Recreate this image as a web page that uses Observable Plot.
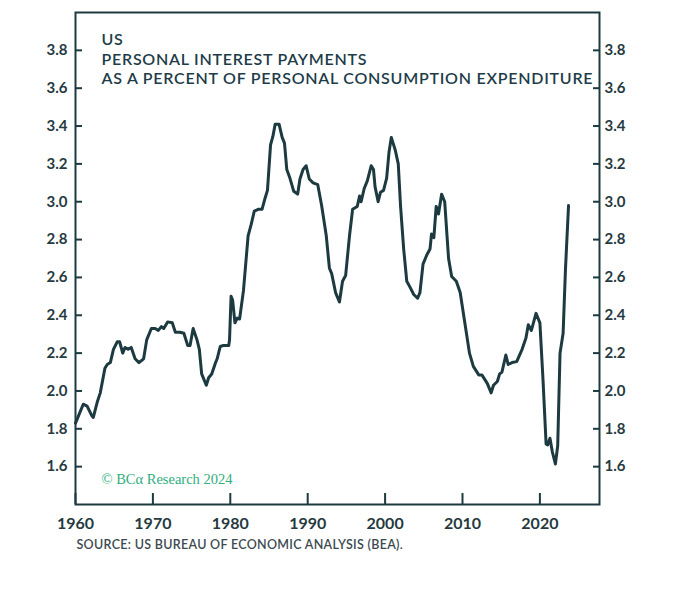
<!DOCTYPE html>
<html>
<head>
<meta charset="utf-8">
<script src="https://cdn.jsdelivr.net/npm/d3@7"></script>
<script src="https://cdn.jsdelivr.net/npm/@observablehq/plot@0.6"></script>
<style>
  body { margin: 0; background: #fff; }
  #chart svg { display: block; }
</style>
</head>
<body>
<div id="chart"></div>
<script>
const years = [
  1960.0,1960.4,1961.0,1961.5,1962.1,1962.3,1962.8,1963.2,1963.8,1964.1,1964.5,1964.9,1965.4,1965.7,1966.1,1966.4,1966.8,1967.2,1967.7,1968.2,1968.8,1969.2,1969.8,
  1970.3,1970.7,1971.1,1971.4,1971.9,1972.5,1972.9,1973.5,1974.0,1974.5,1974.8,1975.2,1975.7,1976.0,1976.3,1976.9,1977.2,1977.6,1978.1,1978.3,1978.7,1979.1,1979.8,1979.9,
  1980.1,1980.3,1980.6,1980.9,1981.2,1981.7,1982.3,1982.7,1983.1,1983.6,1984.1,1984.5,1984.8,1985.2,1985.5,1985.8,1986.3,1986.7,1987.0,1987.3,1987.7,1988.2,1988.7,1989.0,1989.4,1989.8,
  1990.2,1990.7,1991.3,1991.8,1992.4,1992.8,1993.1,1993.6,1994.1,1994.5,1994.9,1995.4,1995.8,1996.4,1996.7,1996.9,1997.3,1997.7,1998.2,1998.5,1998.7,1999.1,1999.4,1999.8,
  2000.2,2000.5,2000.8,2001.3,2001.7,2002.0,2002.4,2002.8,2003.2,2003.7,2004.2,2004.5,2004.9,2005.4,2005.8,2006.0,2006.3,2006.6,2006.9,2007.3,2007.7,2008.2,2008.6,2009.2,2009.7,
  2010.3,2010.9,2011.4,2012.1,2012.5,2013.2,2013.7,2014.0,2014.5,2014.8,2015.1,2015.6,2015.9,2016.4,2017.0,2017.7,2018.2,2018.5,2018.9,2019.5,
  2020.0,2020.4,2020.8,2021.0,2021.3,2021.6,2022.0,2022.3,2022.6,2023.0,2023.3,2023.7
];
const values = [
  1.83,1.87,1.93,1.92,1.87,1.86,1.94,1.99,2.12,2.14,2.15,2.22,2.26,2.26,2.20,2.23,2.22,2.23,2.17,2.15,2.17,2.27,2.33,
  2.33,2.32,2.34,2.33,2.365,2.36,2.31,2.31,2.305,2.24,2.24,2.33,2.27,2.22,2.09,2.03,2.07,2.09,2.15,2.17,2.235,2.24,2.24,2.27,
  2.50,2.48,2.36,2.385,2.38,2.53,2.82,2.88,2.95,2.96,2.96,3.02,3.06,3.30,3.345,3.41,3.41,3.34,3.31,3.17,3.125,3.055,3.04,3.12,3.17,3.19,
  3.12,3.10,3.09,2.98,2.82,2.65,2.62,2.52,2.47,2.58,2.61,2.82,2.96,2.975,3.03,3.00,3.07,3.11,3.19,3.17,3.08,3.00,3.05,3.06,
  3.125,3.26,3.34,3.275,3.20,2.975,2.75,2.58,2.55,2.51,2.49,2.52,2.67,2.72,2.75,2.83,2.81,2.975,2.935,3.04,3.00,2.70,2.605,2.58,2.52,
  2.36,2.20,2.13,2.085,2.085,2.04,1.99,2.03,2.05,2.09,2.10,2.19,2.14,2.15,2.155,2.22,2.28,2.35,2.32,2.41,
  2.36,2.06,1.72,1.715,1.75,1.68,1.614,1.71,2.20,2.305,2.64,2.98
];
const yTicks = [1.6,1.8,2.0,2.2,2.4,2.6,2.8,3.0,3.2,3.4,3.6,3.8];
const xTicks = [1960,1970,1980,1990,2000,2010,2020];
const titleLines = ["US","PERSONAL INTEREST PAYMENTS","AS A PERCENT OF PERSONAL CONSUMPTION EXPENDITURE"];
const sourceText = "SOURCE: US BUREAU OF ECONOMIC ANALYSIS (BEA).";
const watermark = "© BCα Research 2024";

const data = years.map((y, i) => ({year: y, value: values[i]}));

const ink = "#1c3a40";
const labelInk = "#263a40";
const axisFont = {fontSize: 15, fontWeight: 700, fill: labelInk};

const chart = Plot.plot({
  width: 680,
  height: 595,
  marginTop: 12,
  marginLeft: 75,
  marginRight: 81,
  marginBottom: 91,
  style: {fontFamily: "Lato, 'Open Sans', sans-serif", background: "#fff"},
  x: {domain: [1960, 2027.7]},
  y: {domain: [1.4, 4.0]},
  marks: [
    Plot.frame({stroke: ink, strokeWidth: 2}),
    Plot.axisY({anchor: "left", ticks: yTicks, tickSize: 7, dx: 7, fill: "none", stroke: ink, strokeWidth: 2}),
    Plot.axisY({anchor: "right", ticks: yTicks, tickSize: 7, dx: -7, fill: "none", stroke: ink, strokeWidth: 2}),
    Plot.axisY({anchor: "left", ticks: yTicks, tickSize: 0, tickPadding: 8, tickFormat: d3.format(".1f"), label: null, ...axisFont}),
    Plot.axisY({anchor: "right", ticks: yTicks, tickSize: 0, tickPadding: 5, tickFormat: d3.format(".1f"), label: null, ...axisFont}),
    Plot.axisX({anchor: "bottom", ticks: xTicks, tickSize: 11, dy: -11, fill: "none", stroke: ink, strokeWidth: 2}),
    Plot.axisX({anchor: "bottom", ticks: xTicks, tickSize: 0, tickPadding: 13, tickFormat: d => String(d), label: null, ...axisFont, fontSize: 16}),
    Plot.line(data, {x: "year", y: "value", stroke: ink, strokeWidth: 3, curve: "linear"}),
    Plot.text([titleLines.join("\n")], {
      frameAnchor: "top-left", textAnchor: "start", lineAnchor: "top",
      dx: 26, dy: 19, lineHeight: 1.22, fontSize: 16, fontWeight: 600, fill: "#1d3c48"
    }),
    Plot.text([watermark], {
      frameAnchor: "bottom-left", textAnchor: "start", lineAnchor: "middle",
      dx: 26, dy: -25, fontSize: 14.5, fill: "#2fae7e", fontFamily: "'Liberation Serif', serif"
    }),
    Plot.text([sourceText], {
      frameAnchor: "bottom-left", textAnchor: "start", lineAnchor: "middle",
      dx: 1, dy: 40, fontSize: 12.5, fontWeight: 600, fill: "#3c4a50"
    })
  ]
});
chart.querySelectorAll("text").forEach(t => {
  if (t.textContent.startsWith("SOURCE")) t.setAttribute("letter-spacing", "0.3");
  if (t.textContent.startsWith("US")) t.setAttribute("letter-spacing", "0.75");
});
document.getElementById("chart").appendChild(chart);
</script>
</body>
</html>
